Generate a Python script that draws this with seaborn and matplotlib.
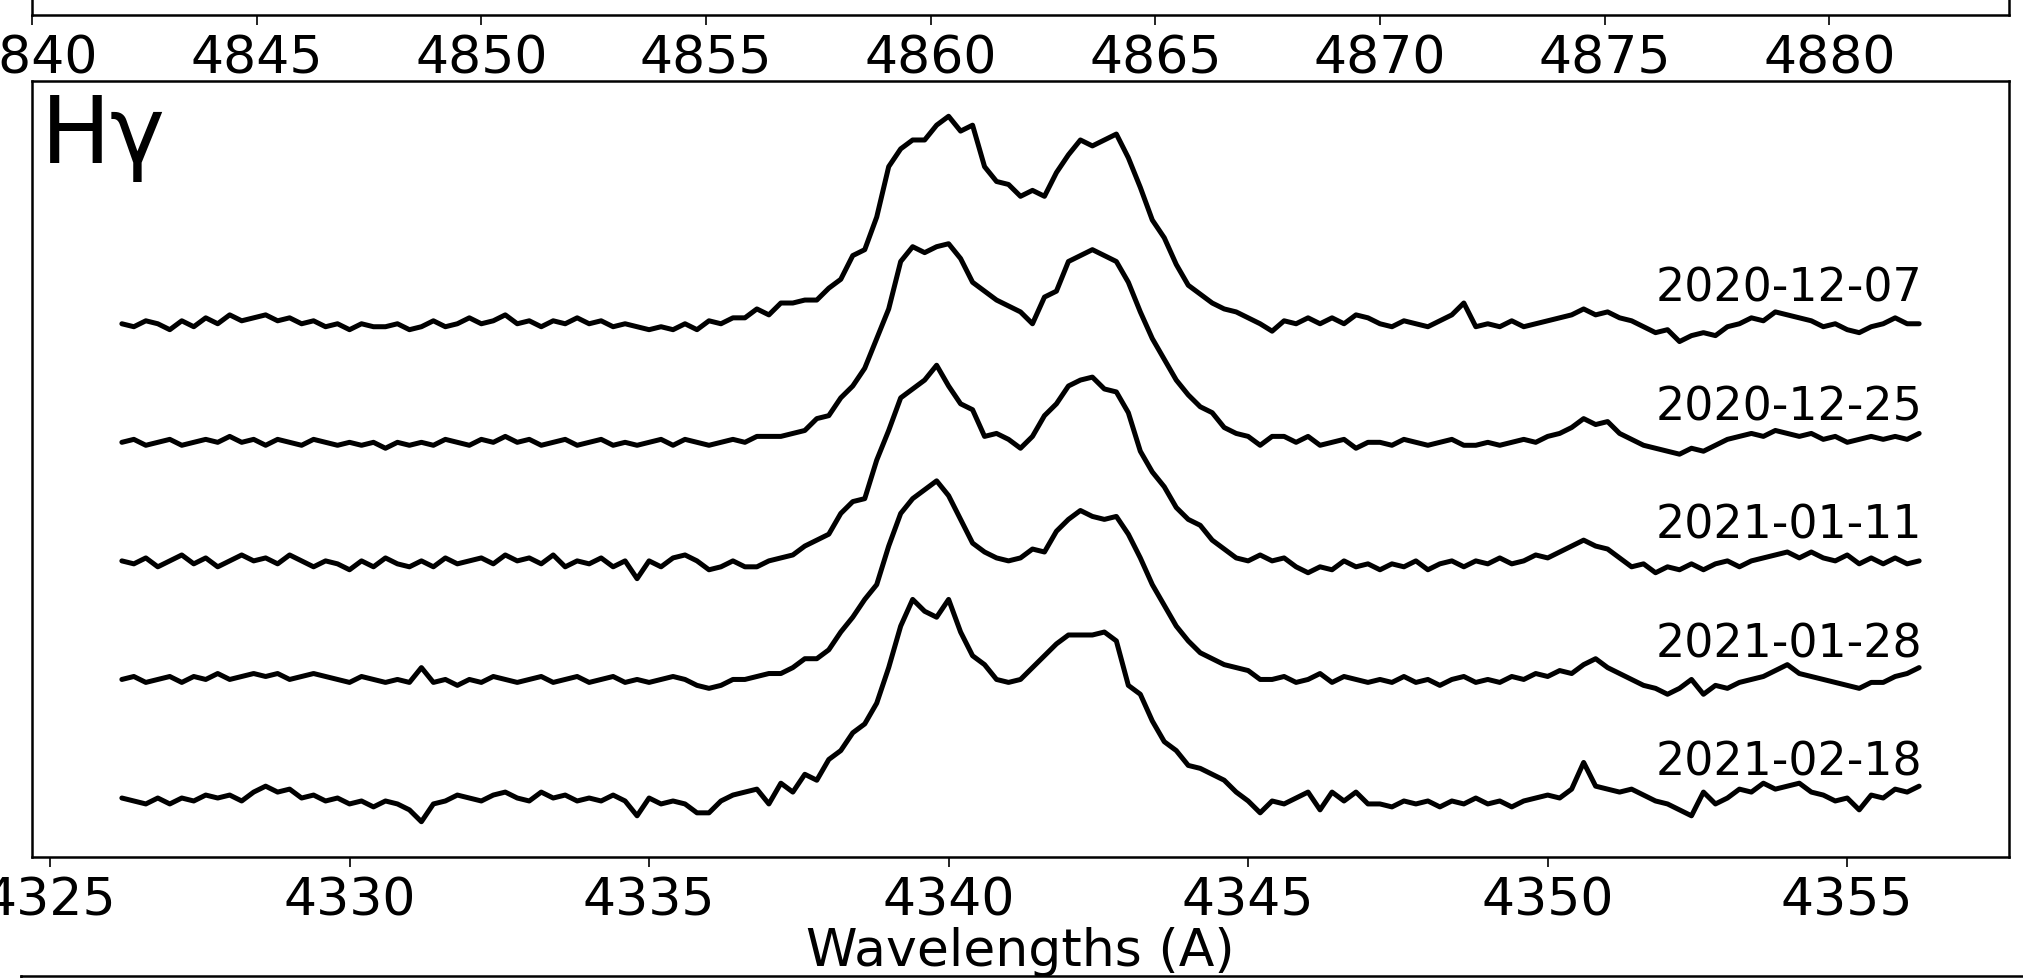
import numpy as np
import pandas as pd
import matplotlib
matplotlib.use("Agg")
import matplotlib.pyplot as plt
import seaborn as sns

# wavelength grid of the H-gamma panel (0.2 A sampling)
wave = np.round(np.linspace(4326.2, 4356.2, 151), 1)

dates = ['2020-12-07', '2020-12-25', '2021-01-11', '2021-01-28', '2021-02-18']

# normalised flux
flux_1207 = [
    1.00, 0.99, 1.01, 1.00, 0.98, 1.01, 0.99, 1.02, 1.00, 1.03,
    1.01, 1.02, 1.03, 1.01, 1.02, 1.00, 1.01, 0.99, 1.00, 0.98,
    1.00, 0.99, 0.99, 1.00, 0.98, 0.99, 1.01, 0.99, 1.00, 1.02,
    1.00, 1.01, 1.03, 1.00, 1.01, 0.99, 1.01, 1.00, 1.02, 1.00,
    1.01, 0.99, 1.00, 0.99, 0.98, 0.99, 0.98, 1.00, 0.98, 1.01,
    1.00, 1.02, 1.02, 1.05, 1.03, 1.07, 1.07, 1.08, 1.08, 1.12,
    1.15, 1.23, 1.25, 1.36, 1.53, 1.59, 1.62, 1.62, 1.67, 1.70,
    1.65, 1.67, 1.53, 1.48, 1.47, 1.43, 1.45, 1.43, 1.51, 1.57,
    1.62, 1.60, 1.62, 1.64, 1.56, 1.46, 1.35, 1.29, 1.20, 1.13,
    1.10, 1.07, 1.05, 1.04, 1.02, 1.00, 0.975, 1.01, 1.00, 1.02,
    1.00, 1.02, 1.00, 1.03, 1.02, 1.00, 0.99, 1.01, 1.00, 0.99,
    1.01, 1.03, 1.07, 0.99, 1.00, 0.99, 1.01, 0.99, 1.00, 1.01,
    1.02, 1.03, 1.05, 1.03, 1.04, 1.02, 1.01, 0.99, 0.97, 0.98,
    0.94, 0.96, 0.97, 0.96, 0.99, 1.00, 1.02, 1.01, 1.04, 1.03,
    1.02, 1.01, 0.99, 1.00, 0.98, 0.97, 0.99, 1.00, 1.02, 1.00,
    1.00]

flux_1225 = [
    1.00, 1.01, 0.99, 1.00, 1.01, 0.99, 1.00, 1.01, 1.00, 1.02,
    1.00, 1.01, 0.99, 1.01, 1.00, 0.99, 1.01, 1.00, 0.99, 1.00,
    0.99, 1.00, 0.98, 1.00, 0.99, 1.00, 0.99, 1.01, 1.00, 0.99,
    1.01, 1.00, 1.02, 1.00, 1.01, 0.99, 1.00, 1.01, 0.99, 1.00,
    1.01, 0.99, 1.00, 0.99, 1.00, 1.01, 0.99, 1.01, 1.00, 0.99,
    1.00, 1.01, 1.00, 1.02, 1.02, 1.02, 1.03, 1.04, 1.08, 1.09,
    1.15, 1.19, 1.25, 1.35, 1.45, 1.61, 1.66, 1.64, 1.66, 1.67,
    1.62, 1.54, 1.51, 1.48, 1.46, 1.44, 1.40, 1.49, 1.51, 1.61,
    1.63, 1.65, 1.63, 1.61, 1.54, 1.44, 1.35, 1.28, 1.21, 1.16,
    1.12, 1.10, 1.05, 1.03, 1.02, 0.99, 1.02, 1.02, 1.00, 1.02,
    0.99, 1.00, 1.01, 0.98, 1.00, 1.00, 0.99, 1.01, 1.00, 0.99,
    1.00, 1.01, 0.99, 0.99, 1.00, 0.99, 1.00, 1.01, 1.00, 1.02,
    1.03, 1.05, 1.08, 1.06, 1.07, 1.03, 1.01, 0.99, 0.98, 0.97,
    0.96, 0.98, 0.97, 0.99, 1.01, 1.02, 1.03, 1.02, 1.04, 1.03,
    1.02, 1.03, 1.01, 1.02, 1.00, 1.01, 1.02, 1.01, 1.02, 1.01,
    1.03]

flux_0111 = [
    1.00, 0.99, 1.01, 0.98, 1.00, 1.02, 0.99, 1.01, 0.98, 1.00,
    1.02, 1.00, 1.01, 0.99, 1.02, 1.00, 0.98, 1.00, 0.99, 0.97,
    1.00, 0.98, 1.01, 0.99, 0.98, 1.00, 0.98, 1.01, 0.99, 1.00,
    1.01, 0.99, 1.02, 1.00, 1.01, 0.99, 1.02, 0.98, 1.00, 0.99,
    1.01, 0.98, 1.00, 0.94, 1.00, 0.98, 1.01, 1.02, 1.00, 0.97,
    0.98, 1.00, 0.98, 0.98, 1.00, 1.01, 1.02, 1.05, 1.07, 1.09,
    1.16, 1.20, 1.21, 1.34, 1.44, 1.55, 1.58, 1.61, 1.66, 1.59,
    1.53, 1.51, 1.42, 1.43, 1.41, 1.38, 1.42, 1.49, 1.53, 1.59,
    1.61, 1.62, 1.58, 1.57, 1.50, 1.37, 1.30, 1.25, 1.18, 1.14,
    1.12, 1.07, 1.04, 1.01, 1.00, 1.02, 1.00, 1.01, 0.98, 0.96,
    0.98, 0.97, 1.00, 0.98, 0.99, 0.97, 0.99, 0.98, 1.00, 0.97,
    0.99, 1.00, 0.98, 1.00, 0.99, 1.01, 0.99, 1.00, 1.02, 1.01,
    1.03, 1.05, 1.07, 1.05, 1.04, 1.01, 0.98, 0.99, 0.96, 0.98,
    0.97, 0.99, 0.97, 0.99, 1.00, 0.98, 1.00, 1.01, 1.02, 1.03,
    1.01, 1.03, 1.01, 1.00, 1.02, 0.99, 1.01, 0.99, 1.01, 0.99,
    1.00]

flux_0128 = [
    1.00, 1.01, 0.99, 1.00, 1.01, 0.99, 1.01, 1.00, 1.02, 1.00,
    1.01, 1.02, 1.01, 1.02, 1.00, 1.01, 1.02, 1.01, 1.00, 0.99,
    1.01, 1.00, 0.99, 1.00, 0.99, 1.04, 0.99, 1.00, 0.98, 1.00,
    0.99, 1.01, 1.00, 0.99, 1.00, 1.01, 0.99, 1.00, 1.01, 0.99,
    1.00, 1.01, 0.99, 1.00, 0.99, 1.00, 1.01, 1.00, 0.98, 0.97,
    0.98, 1.00, 1.00, 1.01, 1.02, 1.02, 1.04, 1.07, 1.07, 1.10,
    1.16, 1.21, 1.27, 1.32, 1.45, 1.56, 1.61, 1.64, 1.67, 1.62,
    1.54, 1.46, 1.43, 1.41, 1.40, 1.41, 1.44, 1.43, 1.50, 1.54,
    1.57, 1.55, 1.54, 1.55, 1.49, 1.41, 1.32, 1.25, 1.18, 1.13,
    1.09, 1.07, 1.05, 1.04, 1.03, 1.00, 1.00, 1.01, 0.99, 1.00,
    1.02, 0.99, 1.01, 1.00, 0.99, 1.00, 0.99, 1.01, 0.99, 1.00,
    0.98, 1.00, 1.01, 0.99, 1.00, 0.99, 1.01, 1.00, 1.02, 1.01,
    1.03, 1.02, 1.05, 1.07, 1.04, 1.02, 1.00, 0.98, 0.97, 0.95,
    0.97, 1.00, 0.95, 0.98, 0.97, 0.99, 1.00, 1.01, 1.03, 1.05,
    1.02, 1.01, 1.00, 0.99, 0.98, 0.97, 0.99, 0.99, 1.01, 1.02,
    1.04]

flux_0218 = [
    1.00, 0.99, 0.98, 1.00, 0.98, 1.00, 0.99, 1.01, 1.00, 1.01,
    0.99, 1.02, 1.04, 1.02, 1.03, 1.00, 1.01, 0.99, 1.00, 0.98,
    0.99, 0.97, 0.99, 0.98, 0.96, 0.92, 0.98, 0.99, 1.01, 1.00,
    0.99, 1.01, 1.02, 1.00, 0.99, 1.02, 1.00, 1.01, 0.99, 1.00,
    0.99, 1.01, 0.99, 0.94, 1.00, 0.98, 0.99, 0.98, 0.95, 0.95,
    0.99, 1.01, 1.02, 1.03, 0.98, 1.05, 1.02, 1.08, 1.06, 1.13,
    1.16, 1.22, 1.25, 1.32, 1.44, 1.58, 1.67, 1.63, 1.61, 1.67,
    1.56, 1.48, 1.45, 1.40, 1.39, 1.40, 1.44, 1.48, 1.52, 1.55,
    1.55, 1.55, 1.56, 1.53, 1.38, 1.35, 1.26, 1.19, 1.16, 1.11,
    1.10, 1.08, 1.06, 1.02, 0.99, 0.95, 0.99, 0.98, 1.00, 1.02,
    0.96, 1.02, 0.99, 1.02, 0.98, 0.98, 0.97, 0.99, 0.98, 0.99,
    0.97, 0.99, 0.98, 1.00, 0.98, 0.99, 0.97, 0.99, 1.00, 1.01,
    1.00, 1.03, 1.12, 1.04, 1.03, 1.02, 1.03, 1.01, 0.99, 0.98,
    0.96, 0.94, 1.02, 0.98, 1.00, 1.03, 1.02, 1.05, 1.03, 1.04,
    1.05, 1.02, 1.01, 0.99, 1.00, 0.96, 1.01, 1.00, 1.03, 1.02,
    1.04]

fluxes = [flux_1207, flux_1225, flux_0111, flux_0128, flux_0218]
offset_step = 0.4

# H-beta panel above (only its bottom axis shows in this crop)
hb_ticks = [4840, 4845, 4850, 4855, 4860, 4865, 4870, 4875, 4880]
hb_range = (4842, 4882)

rows = []
for i, (d, f) in enumerate(zip(dates, fluxes)):
    assert len(f) == len(wave), d
    for w, v in zip(wave, f):
        rows.append({'date': d, 'wave': w, 'flux': v - offset_step * i})
df = pd.DataFrame(rows)

sns.set_theme(style='ticks', rc={'axes.edgecolor': 'black', 'xtick.color': 'black',
                                 'text.color': 'black', 'axes.labelcolor': 'black'})
plt.rcParams['font.family'] = ['DejaVu Sans']

W, H = 2024, 979
fig = plt.figure(figsize=(W / 100, H / 100), dpi=100)

ax_top = fig.add_axes([32 / W, 1 - 16 / H, 1977 / W, 0.5])
ax = fig.add_axes([32 / W, 1 - 858 / H, 1977 / W, (858 - 82) / H])
ax_bot = fig.add_axes([21 / W, 2 / H - 0.5, 1.2, 0.5])

sns.lineplot(data=df, x='wave', y='flux', units='date', estimator=None,
             color='black', linewidth=3.6, legend=False, ax=ax)

for i, d in enumerate(dates):
    ax.text(wave[-1] + 0.05, 1.12 - offset_step * i, d, fontsize=33,
            ha='right', va='center')

ax.text(0.0046, 0.8956, 'Hγ', transform=ax.transAxes, fontsize=67,
        ha='left', va='baseline')

ax.set_xticks([4325, 4330, 4335, 4340, 4345, 4350, 4355])
ax.set_yticks([])
ax.set_ylabel('')
ax.set_xlabel('Wavelengths (A)', fontsize=37.5, labelpad=1)

span = hb_range[1] - hb_range[0]
ax_top.set_xlim(hb_range[0] - 0.05 * span, hb_range[1] + 0.05 * span)
ax_top.set_xticks(hb_ticks)
ax_top.set_yticks([])

ax_bot.set_xticks([])
ax_bot.set_yticks([])

for a in (ax, ax_top, ax_bot):
    for s in a.spines.values():
        s.set_visible(True)
        s.set_linewidth(1.8)
    a.tick_params(axis='x', length=7, width=1.2, labelsize=37.5, pad=6)

fig.savefig('out.png', dpi=100)
